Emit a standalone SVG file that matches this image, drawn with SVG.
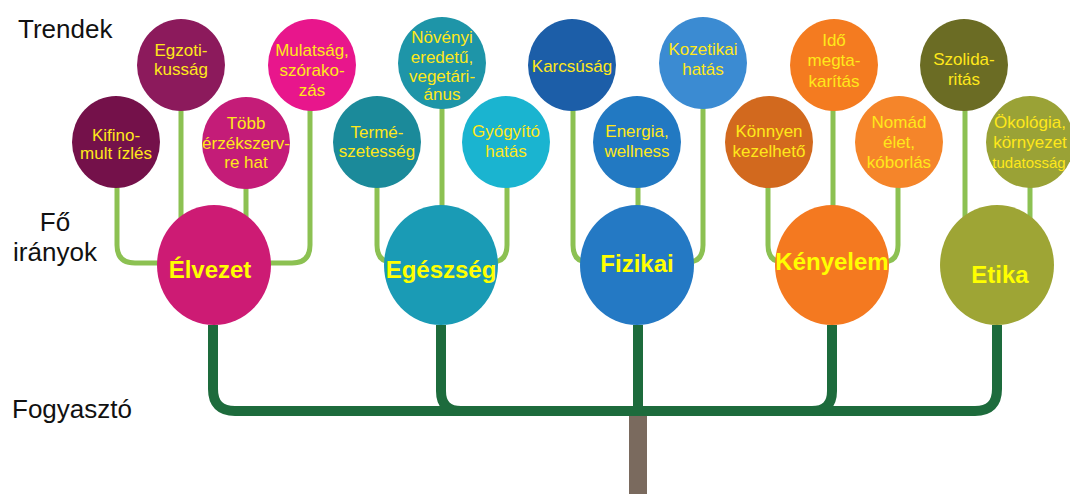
<svg xmlns="http://www.w3.org/2000/svg" width="1070" height="494" viewBox="0 0 1070 494">
<style>
.lbl{font-family:"Liberation Sans",Arial,sans-serif;font-size:26px;fill:#111}
.t{font-family:"Liberation Sans",Arial,sans-serif;font-size:17px;fill:#ffe81a;text-anchor:middle}
.m{font-family:"Liberation Sans",Arial,sans-serif;font-size:24px;font-weight:bold;fill:#ffff00;text-anchor:middle}
.lg{fill:none;stroke:#8cc152;stroke-width:5;stroke-linecap:round}
.dg{fill:none;stroke:#1d6b3c;stroke-width:10;stroke-linejoin:round}
</style>
<rect width="1070" height="494" fill="#ffffff"/>
<g id="labels">
<text class="lbl" x="18" y="38">Trendek</text>
<text class="lbl" x="55" y="231" text-anchor="middle">Fő</text>
<text class="lbl" x="55" y="261" text-anchor="middle">irányok</text>
<text class="lbl" x="12" y="418">Fogyasztó</text>
</g>
<g id="connectors">
<rect x="629" y="414" width="18" height="80" fill="#7a6a5e"/>
<path class="dg" d="M213,325 V389 Q213,411 235,411 H975 Q997,411 997,389 V325"/>
<path class="dg" d="M441,325 V391 Q441,411 461,411"/>
<path class="dg" d="M638,325 V411"/>
<path class="dg" d="M832,325 V391 Q832,411 812,411"/>
<path class="lg" d="M117,188 V245 Q117,263 135,263 H170"/>
<path class="lg" d="M181,110 V230"/>
<path class="lg" d="M246,188 V230"/>
<path class="lg" d="M310,110 V245 Q310,263 292,263 H260"/>
<path class="lg" d="M377,188 V245 Q377,262 392,262"/>
<path class="lg" d="M442,108 V215"/>
<path class="lg" d="M507,188 V245 Q507,262 492,262"/>
<path class="lg" d="M573,110 V245 Q573,262 588,262"/>
<path class="lg" d="M638,188 V215"/>
<path class="lg" d="M703,108 V245 Q703,262 688,262"/>
<path class="lg" d="M768,188 V245 Q768,262 783,262"/>
<path class="lg" d="M833,110 V215"/>
<path class="lg" d="M898,188 V245 Q898,262 883,262"/>
<path class="lg" d="M965,110 V225"/>
<path class="lg" d="M1030,188 V225"/>
</g>
<g id="n-kifinomult"><ellipse cx="116" cy="142" rx="44" ry="46" fill="#74114a"/><text class="t"><tspan x="116" y="141">Kifino-</tspan><tspan x="116" y="159">mult ízlés</tspan></text></g>
<g id="n-egzotikussag"><ellipse cx="181" cy="65" rx="44" ry="46" fill="#8c1a5c"/><text class="t"><tspan x="181" y="56">Egzoti-</tspan><tspan x="181" y="75">kusság</tspan></text></g>
<g id="n-tobb"><ellipse cx="246" cy="143" rx="44" ry="46" fill="#c41c78"/><text class="t"><tspan x="246" y="129">Több</tspan><tspan x="246" y="149">érzékszerv-</tspan><tspan x="246" y="168">re hat</tspan></text></g>
<g id="n-mulatsag"><ellipse cx="312" cy="65" rx="44" ry="46" fill="#e8168c"/><text class="t"><tspan x="312" y="56">Mulatság,</tspan><tspan x="312" y="76">szórako-</tspan><tspan x="312" y="96">zás</tspan></text></g>
<g id="n-termeszetesseg"><ellipse cx="377" cy="142" rx="44" ry="46" fill="#1b8a9a"/><text class="t"><tspan x="377" y="138">Termé-</tspan><tspan x="377" y="157">szetesség</tspan></text></g>
<g id="n-novenyi"><ellipse cx="442" cy="63" rx="44" ry="46" fill="#1e95a8"/><text class="t"><tspan x="442" y="43">Növényi</tspan><tspan x="442" y="63">eredetű,</tspan><tspan x="442" y="82">vegetári-</tspan><tspan x="442" y="100">ánus</tspan></text></g>
<g id="n-gyogyito"><ellipse cx="506" cy="142" rx="44" ry="46" fill="#1ab4d0"/><text class="t"><tspan x="506" y="137">Gyógyító</tspan><tspan x="506" y="157">hatás</tspan></text></g>
<g id="n-karcsusag"><ellipse cx="572" cy="65" rx="44" ry="46" fill="#1c5ea8"/><text class="t" x="572" y="72">Karcsúság</text></g>
<g id="n-energia"><ellipse cx="637" cy="142" rx="44" ry="46" fill="#2279c2"/><text class="t"><tspan x="637" y="137">Energia,</tspan><tspan x="637" y="157">wellness</tspan></text></g>
<g id="n-kozetikai"><ellipse cx="703" cy="63" rx="44" ry="46" fill="#3b8bd2"/><text class="t"><tspan x="703" y="55">Kozetikai</tspan><tspan x="703" y="75">hatás</tspan></text></g>
<g id="n-konnyen"><ellipse cx="769" cy="142" rx="44" ry="46" fill="#d2691e"/><text class="t"><tspan x="769" y="137">Könnyen</tspan><tspan x="769" y="157">kezelhető</tspan></text></g>
<g id="n-ido"><ellipse cx="834" cy="65" rx="44" ry="46" fill="#f47b20"/><text class="t"><tspan x="834" y="46">Idő</tspan><tspan x="834" y="66">megta-</tspan><tspan x="834" y="87">karítás</tspan></text></g>
<g id="n-nomad"><ellipse cx="899" cy="142" rx="44" ry="46" fill="#f5852a"/><text class="t"><tspan x="899" y="128">Nomád</tspan><tspan x="899" y="148">élet,</tspan><tspan x="899" y="168">kóborlás</tspan></text></g>
<g id="n-szolidaritas"><ellipse cx="964" cy="65" rx="44" ry="46" fill="#6b6c24"/><text class="t"><tspan x="964" y="65">Szolida-</tspan><tspan x="964" y="85">ritás</tspan></text></g>
<g id="n-okologia"><ellipse cx="1030" cy="142" rx="44" ry="46" fill="#9aa236"/><text class="t"><tspan x="1030" y="128">Ökológia,</tspan><tspan x="1030" y="148">környezet</tspan></text><text class="t" x="1029" y="168" style="font-size:15px">tudatosság</text></g>
<g id="n-elvezet"><ellipse cx="214" cy="265" rx="57" ry="60" fill="#cd1b74"/><text class="m" x="210" y="278">Élvezet</text></g>
<g id="n-egeszseg"><ellipse cx="441" cy="265" rx="57" ry="60" fill="#1a9bb5"/><text class="m" x="441" y="278">Egészség</text></g>
<g id="n-fizikai"><ellipse cx="637" cy="265" rx="57" ry="60" fill="#2479c4"/><text class="m" x="637" y="272">Fizikai</text></g>
<g id="n-kenyelem"><ellipse cx="832" cy="265" rx="57" ry="60" fill="#f47920"/><text class="m" x="832" y="270">Kényelem</text></g>
<g id="n-etika"><ellipse cx="997" cy="265" rx="57" ry="60" fill="#9ea535"/><text class="m" x="1000" y="283">Etika</text></g>
</svg>
